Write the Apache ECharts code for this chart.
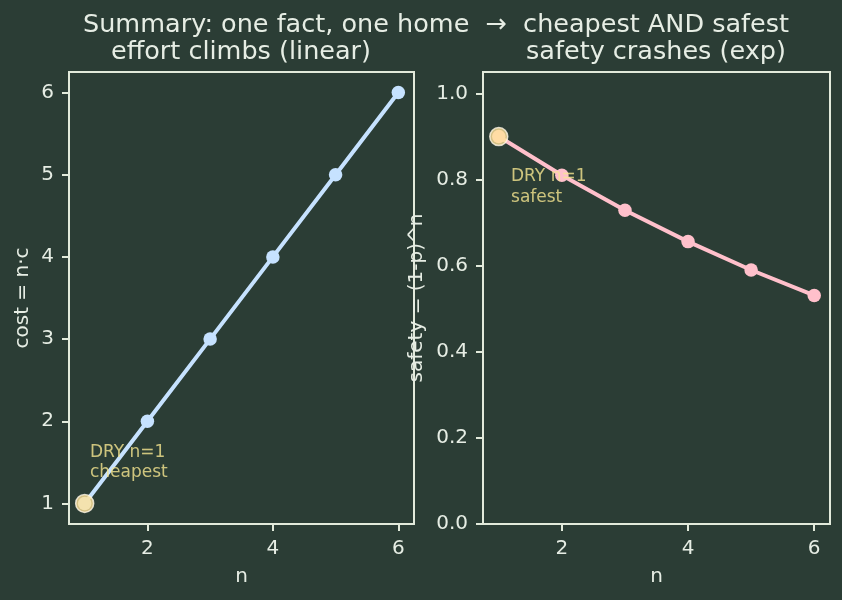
<!DOCTYPE html>
<html>
<head>
<meta charset="utf-8">
<script src="https://cdn.jsdelivr.net/npm/echarts@6/dist/echarts.min.js"></script>
<style>
html,body{margin:0;padding:0;background:#2b3d35;}
#main{width:842px;height:600px;}
</style>
</head>
<body>
<div id="main"></div>
<script>
// data
var nVals = [1, 2, 3, 4, 5, 6];
var costVals = [1, 2, 3, 4, 5, 6];
var safetyVals = [0.9, 0.81, 0.729, 0.656, 0.59, 0.531];
var xTicks = [2, 4, 6];
var costTicks = [1, 2, 3, 4, 5, 6];
var safetyTicks = [0, 0.2, 0.4, 0.6, 0.8, 1.0];

var bg = '#2b3d35';
var fg = '#e6ede4';
var spine = '#e2eadb';
var font = 'DejaVu Sans';
var titleFont = '25.5px "DejaVu Sans"';

function pairs(xs, ys){
	var out = [];
	for (var i = 0; i < xs.length; i++) {
		out.push([xs[i], ys[i]]);
	}
	return out;
}

function xAxisOf(idx){
	return {
		type: 'value', gridIndex: idx,
		min: 0.75, max: 6.25,
		name: 'n', nameLocation: 'middle', nameGap: 43,
		nameTextStyle: {color: fg, fontSize: 20, fontFamily: font},
		axisLine: {show: true, lineStyle: {color: spine, width: 2}},
		axisTick: {show: true, length: 7, lineStyle: {color: spine, width: 2}, customValues: xTicks},
		axisLabel: {color: fg, fontSize: 20, fontFamily: font, margin: 15, customValues: xTicks},
		splitLine: {show: false}
	};
}

function yAxisOf(idx, min, max, ticks, name, gap, digits){
	return {
		type: 'value', gridIndex: idx,
		min: min, max: max,
		name: name, nameLocation: 'middle', nameGap: gap,
		nameTextStyle: {color: fg, fontSize: 20, fontFamily: font},
		axisLine: {show: true, lineStyle: {color: spine, width: 2}},
		axisTick: {show: true, length: 7, lineStyle: {color: spine, width: 2}, customValues: ticks},
		axisLabel: {
			color: fg, fontSize: 20, fontFamily: font, margin: 15, customValues: ticks,
			formatter: function(v){ return v.toFixed(digits); }
		},
		splitLine: {show: false}
	};
}

var myChart = echarts.init(document.getElementById('main'), null, {renderer: 'canvas'});
var option = {
	backgroundColor: bg,
	animation: false,
	graphic: [
		{type: 'text', x: 436, y: 25, style: {text: 'Summary: one fact, one home  \u2192  cheapest AND safest', fill: fg, font: titleFont, textAlign: 'center', textVerticalAlign: 'middle'}},
		{type: 'text', x: 241, y: 52, style: {text: 'effort climbs (linear)', fill: fg, font: titleFont, textAlign: 'center', textVerticalAlign: 'middle'}},
		{type: 'text', x: 656, y: 52, style: {text: 'safety crashes (exp)', fill: fg, font: titleFont, textAlign: 'center', textVerticalAlign: 'middle'}}
	],
	grid: [
		{left: 69, right: 428, top: 72, bottom: 76, show: true, borderColor: spine, borderWidth: 2, backgroundColor: 'transparent'},
		{left: 483, right: 12, top: 72, bottom: 76, show: true, borderColor: spine, borderWidth: 2, backgroundColor: 'transparent'}
	],
	xAxis: [xAxisOf(0), xAxisOf(1)],
	yAxis: [
		yAxisOf(0, 0.75, 6.25, costTicks, 'cost = n\u00b7c', 36, 0),
		yAxisOf(1, 0, 1.05, safetyTicks, 'safety = (1-p)^n', 56, 1)
	],
	series: [
		{
			type: 'line', xAxisIndex: 0, yAxisIndex: 0,
			data: pairs(nVals, costVals),
			symbol: 'circle', symbolSize: 13.5,
			lineStyle: {color: '#c6e2ff', width: 4},
			itemStyle: {color: '#c6e2ff'}
		},
		{
			type: 'line', xAxisIndex: 1, yAxisIndex: 1,
			data: pairs(nVals, safetyVals),
			symbol: 'circle', symbolSize: 13.5,
			lineStyle: {color: '#ffc0cb', width: 4},
			itemStyle: {color: '#ffc0cb'}
		},
		{
			type: 'scatter', xAxisIndex: 0, yAxisIndex: 0, z: 5,
			data: [[nVals[0], costVals[0]]],
			symbolSize: 18,
			itemStyle: {color: '#ffe29a', borderColor: '#fff8e8', borderWidth: 1.5},
			label: {
				show: true, formatter: 'DRY n=1\ncheapest',
				position: [15, -51], align: 'left', verticalAlign: 'top',
				color: '#f6e690', fontSize: 17, lineHeight: 20, fontFamily: font
			}
		},
		{
			type: 'scatter', xAxisIndex: 1, yAxisIndex: 1, z: 5,
			data: [[nVals[0], safetyVals[0]]],
			symbolSize: 18,
			itemStyle: {color: '#ffe29a', borderColor: '#fff8e8', borderWidth: 1.5},
			label: {
				show: true, formatter: 'DRY n=1\nsafest',
				position: [22, 39], align: 'left', verticalAlign: 'top',
				color: '#f6e690', fontSize: 17, lineHeight: 21, fontFamily: font
			}
		}
	]
};
myChart.setOption(option);
</script>
</body>
</html>
